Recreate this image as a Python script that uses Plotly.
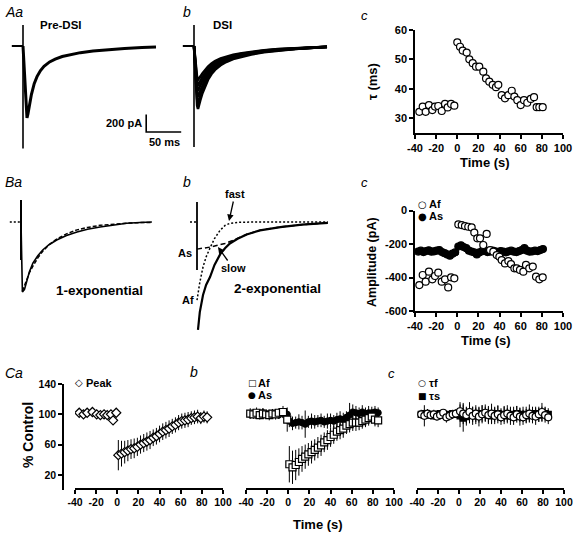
import plotly.graph_objects as go

W, H = 575, 533
FONT = "Liberation Sans, Arial, Helvetica, sans-serif"
SYM_FONT = "DejaVu Sans, sans-serif"

# ======================= DATA =======================
# A / B : current traces (time after stimulus in ms, current in pA)
a_time_ms = [0, 1.5, 3, 4.5, 5.7, 7, 9, 12, 16, 20, 25, 30, 38, 46, 56, 68, 82, 100, 120, 145, 170, 190]
pre_dsi_pA = [0, -250, -520, -740, -823, -780, -680, -555, -430, -350, -280, -232, -182, -150, -120, -97, -76, -57, -42, -28, -18, -11]
dsi_sweep1_pA = [0, -230, -480, -680, -720, -690, -620, -540, -455, -385, -320, -272, -220, -182, -148, -120, -96, -72, -52, -33, -20, -12]
dsi_sweep2_pA = [0, -210, -440, -610, -650, -620, -560, -490, -415, -352, -295, -252, -204, -169, -137, -111, -89, -66, -48, -31, -19, -11]
dsi_sweep3_pA = [0, -190, -400, -550, -580, -555, -500, -440, -378, -322, -270, -232, -188, -157, -127, -103, -82, -61, -44, -29, -18, -10]
dsi_sweep4_pA = [0, -170, -360, -490, -515, -495, -450, -398, -342, -293, -247, -212, -173, -145, -118, -96, -76, -57, -41, -27, -17, -10]
dsi_sweep5_pA = [0, -150, -320, -430, -450, -435, -400, -356, -306, -264, -224, -193, -158, -133, -109, -89, -70, -53, -38, -25, -16, -9]
dsi_sweep6_pA = [0, -130, -280, -370, -385, -375, -350, -314, -272, -235, -200, -173, -143, -121, -100, -82, -65, -49, -35, -23, -15, -9]
pre_baseline_ms = [-16, 0]
bb_baseline_ms = [-10, 0]
baseline_pA = [0, 0]
artifact_ms = [0, 0]
aa_artifact_pA = [240, -1170]
ab_artifact_pA = [240, -1154]
ba_artifact_pA = [251, -434]
bb_artifact_pA = [229, -549]
scale_bar_ms = 50
scale_bar_pA = 200

ba_time_ms = [0, 1, 2, 5, 8.6, 12, 17, 24, 31, 40, 51, 65, 80, 95, 113, 130, 151, 170, 187]
ba_data_pA = [0, -600, -800, -770, -663, -570, -469, -385, -320, -260, -206, -155, -114, -82, -57, -35, -14, -5, 0]
ba_fit_time_ms = [2, 5, 8.6, 12, 17, 24, 31, 40, 51, 65, 80, 95, 113, 130, 151, 170, 187]
ba_fit_pA = [-790, -730, -650, -580, -505, -410, -335, -260, -195, -135, -90, -62, -38, -24, -13, -7, -4]

bb_sum_time_ms = [1.4, 4, 8.6, 13, 18.6, 25, 33, 40, 47, 58, 71, 90, 119, 150, 187]
bb_sum_pA = [-1234, -1030, -834, -720, -629, -490, -370, -300, -245, -192, -142, -96, -58, -31, -11]
bb_fast_time_ms = [0, 4, 8.6, 13, 18.6, 25, 33, 40, 47, 60, 80, 120, 187]
bb_fast_pA = [-894, -690, -514, -400, -297, -190, -95, -40, -15, -4, 0, 0, 0]
bb_slow_time_ms = [0, 10, 20, 30, 40, 50, 60, 71, 90, 119, 150, 187]
bb_slow_pA = [-310, -300, -285, -265, -245, -215, -180, -140, -95, -57, -30, -11]

# Ac : decay time constant (s, ms)
tau_time_s = [-35.9, -32.7, -29.9, -26.8, -23.6, -21.1, -18.0, -14.7, -11.6, -9.1, -5.9, -2.8,
              0.0, 2.6, 5.1, 8.9, 11.4, 14.6, 17.7, 20.8, 24.6, 27.2, 30.3, 33.5, 36.6, 38.8,
              42.0, 45.1, 48.3, 51.5, 54.0, 56.8, 60.0, 63.1, 66.2, 69.5, 72.6, 75.1, 77.6, 80.8]
tau_ms = [32.1, 33.9, 32.1, 34.4, 32.7, 33.9, 34.1, 32.4, 34.8, 33.6, 34.8, 34.2,
          55.8, 54.3, 53.0, 52.3, 50.0, 48.7, 47.5, 47.5, 45.8, 43.5, 42.4, 41.3, 40.5, 41.3,
          37.8, 36.7, 37.8, 39.3, 37.3, 36.1, 34.4, 36.1, 35.2, 36.5, 37.1, 33.7, 33.7, 33.7]

# Bc : amplitudes of fast (Af) and slow (As) components
af_time_s = [-35.9, -32.7, -29.9, -26.8, -23.6, -21.1, -18.0, -14.7, -11.6, -8.6, -5.9, -2.8,
             1.0, 4.2, 7.3, 10.4, 13.6, 16.1, 18.9, 21.5, 24.6, 27.8, 31.0, 34.1, 37.3, 39.8,
             42.0, 45.1, 48.3, 50.8, 54.0, 56.2, 59.3, 62.5, 65.0, 68.1, 71.4, 74.5, 77.6, 80.8]
af_pA = [-445, -385, -425, -365, -411, -391, -371, -425, -411, -459, -399, -405,
         -83, -87, -93, -97, -101, -132, -166, -166, -206, -140, -236, -246, -266, -276,
         -296, -316, -302, -320, -345, -345, -355, -365, -325, -345, -335, -395, -411, -399]
as_time_s = [-37, -34.5, -32, -29.5, -27, -24.5, -22, -19.5, -17, -14.5, -12, -9.5, -7, -4.5, -2,
             1, 3.5, 6, 8.5, 11, 13.5, 16, 18.5, 21, 23.5, 26, 28.5, 31, 33.5, 36, 38.5, 41, 43.5,
             46, 48.5, 51, 53.5, 56, 58.5, 61, 63.5, 66, 68.5, 71, 73.5, 76, 78.5, 81]
as_pA = [-245, -240, -248, -242, -238, -246, -244, -240, -236, -248, -255, -262, -270, -258, -250,
         -215, -208, -218, -225, -240, -245, -250, -262, -250, -243, -240, -248, -245, -240, -244,
         -248, -242, -246, -250, -244, -240, -246, -248, -242, -236, -225, -240, -246, -244, -240,
         -242, -236, -230]

# C : pooled data, % of control (mean +/- s.e.m.)
post_time_s = [1, 4, 7, 10, 13, 16, 19, 22, 25, 28, 31, 34, 37, 40, 43, 46, 49, 52, 55, 58,
               61, 64, 67, 70, 73, 76, 79, 82, 85]
peak_pre_time_s = [-36, -32, -28.5, -23.5, -19.5, -16, -12.5, -9.5, -6, -4, -1]
peak_pre_pct = [102, 100, 102, 103, 100, 99, 100, 99, 100, 92, 102]
peak_post_pct = [46, 48, 50, 52, 54, 55, 57, 60, 62, 64, 66, 69, 71, 74, 77, 79, 81, 84, 86, 89,
                 91, 92, 93, 95, 96, 97, 95, 97, 96]
peak_post_err = [20, 17, 15, 14, 13, 13, 12, 12, 12, 12, 12, 11, 11, 11, 11, 11, 11, 10, 10, 10,
                 10, 10, 10, 9, 9, 9, 8, 8, 8]

cb_pre_time_s = [-36, -33, -30, -27, -24, -21, -18, -15, -12, -9, -5, -1]
af_pre_pct = [101, 100, 102, 99, 101, 100, 99, 101, 100, 102, 103, 93]
af_pre_err = [7, 6, 7, 6, 7, 6, 7, 6, 7, 6, 8, 16]
as_pre_pct = [100, 101, 99, 100, 102, 100, 99, 101, 100, 99, 101, 100]
as_pre_err = [5, 6, 5, 5, 6, 5, 5, 6, 5, 5, 6, 5]
af_post_pct = [34, 30, 33, 37, 41, 44, 47, 50, 53, 56, 59, 63, 66, 70, 73, 77, 79, 81, 85, 87,
               89, 89, 89, 91, 93, 95, 97, 93, 92]
af_post_err = [24, 22, 20, 18, 17, 16, 15, 15, 14, 14, 14, 13, 13, 13, 12, 12, 12, 12, 11, 11,
               11, 11, 10, 10, 10, 10, 9, 9, 9]
as_post_pct = [91, 88, 89, 90, 89, 87, 90, 91, 90, 91, 92, 90, 91, 92, 91, 93, 94, 93, 96, 99,
               103, 102, 101, 103, 101, 102, 102, 103, 102]
as_post_err = [8, 9, 8, 10, 9, 18, 8, 10, 9, 8, 9, 8, 10, 9, 8, 9, 10, 9, 8, 16,
               10, 9, 8, 9, 8, 9, 8, 8, 7]

cc_pre_time_s = [-36, -33, -30, -27, -24, -21, -18, -15, -12, -9, -6, -3]
tf_pre_pct = [100, 98, 101, 99, 100, 97, 99, 102, 96, 98, 100, 101]
tf_pre_err = [6, 14, 6, 5, 6, 5, 6, 5, 7, 6, 5, 6]
ts_pre_pct = [100, 101, 99, 100, 98, 100, 101, 99, 100, 99, 101, 100]
ts_pre_err = [4, 5, 4, 4, 5, 4, 4, 5, 4, 4, 5, 4]
tf_post_pct = [104, 101, 99, 103, 98, 101, 97, 100, 102, 99, 101, 98, 100, 96, 99, 101, 98, 96,
               100, 97, 96, 99, 101, 98, 97, 100, 103, 99, 96]
tf_post_err = [12, 14, 11, 13, 12, 11, 13, 12, 11, 12, 13, 11, 12, 10, 12, 11, 12, 10, 11, 12,
               10, 11, 12, 10, 11, 10, 12, 10, 9]
ts_post_pct = [98, 95, 97, 99, 100, 98, 99, 101, 100, 99, 98, 100, 101, 99, 100, 98, 99, 100,
               101, 99, 100, 98, 99, 100, 101, 99, 100, 101, 100]
ts_post_err = [15, 18, 12, 11, 10, 11, 10, 11, 10, 10, 11, 10, 10, 9, 10, 10, 9, 10, 10, 9,
               10, 9, 9, 10, 9, 9, 10, 9, 8]

# tick values and labels
time_ticks = [-40, -20, 0, 20, 40, 60, 80, 100]
time_tick_labels = ["-40", "-20", "0", "20", "40", "60", "80", "100"]
tau_ticks = [30, 40, 50, 60]
tau_tick_labels = ["30", "40", "50", "60"]
amp_ticks = [-600, -400, -200, 0]
amp_tick_labels = ["-600", "-400", "-200", "0"]
pct_ticks = [20, 60, 100, 140]
pct_tick_labels = ["20", "60", "100", "140"]

# ======================= LAYOUT HELPERS =======================
SX, SY = 0.7, 0.0875  # trace panels: px per ms, px per pA


def fx(x):
    return x / W


def fy(y):
    return 1 - y / H


def names(n):
    return ("xaxis" if n == 1 else f"xaxis{n}", "yaxis" if n == 1 else f"yaxis{n}")


def refs(n):
    return ("x" if n == 1 else f"x{n}", "y" if n == 1 else f"y{n}")


layout = dict(
    template="none",
    width=W, height=H, margin=dict(l=0, r=0, t=0, b=0, pad=0), autosize=False,
    paper_bgcolor="white", plot_bgcolor="rgba(0,0,0,0)", showlegend=False,
    font=dict(family=FONT, color="black"),
)


def trace_panel(n, box, origin):
    x0, x1, y0, y1 = box
    ox, oy = origin
    xn, yn = names(n)
    xr, yr = refs(n)
    layout[xn] = dict(domain=[fx(x0), fx(x1)], range=[(x0 - ox) / SX, (x1 - ox) / SX],
                      visible=False, anchor=yr, fixedrange=True, automargin=False)
    layout[yn] = dict(domain=[fy(y1), fy(y0)], range=[(oy - y1) / SY, (oy - y0) / SY],
                      visible=False, anchor=xr, fixedrange=True, automargin=False)


AXSTYLE = dict(showline=True, linecolor="black", linewidth=1.5, ticks="outside", ticklen=4,
               tickwidth=1.5, tickcolor="black", showgrid=False, zeroline=False, fixedrange=True,
               automargin=False, tickangle=0)


def data_panel(n, xdom, ydom, yrange, yticks, ylabels, show_y=True, x_pos=None, y_pos=None, tsize=11):
    xn, yn = names(n)
    xr, yr = refs(n)
    tf = dict(family=FONT, size=tsize, color="black", weight="bold")
    xa = dict(AXSTYLE, domain=[fx(xdom[0]), fx(xdom[1])], range=[-40, 100], tickvals=time_ticks,
              ticktext=time_tick_labels, tickfont=tf)
    if x_pos is None:
        xa["anchor"] = yr
    else:
        xa["anchor"] = "free"
        xa["position"] = fy(x_pos)
    ya = dict(AXSTYLE, domain=[fy(ydom[1]), fy(ydom[0])], range=yrange, tickvals=yticks,
              ticktext=ylabels, tickfont=tf)
    if y_pos is None:
        ya["anchor"] = xr
    else:
        ya["anchor"] = "free"
        ya["position"] = fx(y_pos)
    if not show_y:
        ya["visible"] = False
    layout[xn] = xa
    layout[yn] = ya


trace_panel(1, (0, 190, 0, 170), (23, 46))
trace_panel(2, (175, 365, 0, 170), (194, 46))
trace_panel(3, (0, 175, 180, 350), (21, 222))
trace_panel(4, (175, 365, 180, 350), (197, 222))
data_panel(5, (415, 563), (30, 133), [24.9, 60], tau_ticks, tau_tick_labels)
data_panel(6, (415, 563), (210.5, 311), [-600, 0], amp_ticks, amp_tick_labels)
data_panel(7, (75, 223), (384, 490), [0, 140], pct_ticks, pct_tick_labels, x_pos=489, y_pos=63, tsize=10.5)
data_panel(8, (246, 394), (384, 490), [0, 140], pct_ticks, pct_tick_labels, show_y=False, x_pos=489, tsize=10.5)
data_panel(9, (417, 564), (384, 490), [0, 140], pct_ticks, pct_tick_labels, show_y=False, x_pos=489, tsize=10.5)

fig = go.Figure()


def line(n, xs, ys, width=2.0, dash="solid"):
    xr, yr = refs(n)
    fig.add_trace(go.Scatter(x=xs, y=ys, xaxis=xr, yaxis=yr, mode="lines", hoverinfo="skip",
                             line=dict(color="black", width=width, dash=dash)))


def pts(n, xs, ys, symbol, size, filled, err=None, lw=1.2):
    xr, yr = refs(n)
    kw = {}
    if err is not None:
        kw["error_y"] = dict(type="data", array=err, color="black", thickness=1, width=0)
    fig.add_trace(go.Scatter(
        x=xs, y=ys, xaxis=xr, yaxis=yr, mode="markers", hoverinfo="skip",
        marker=dict(symbol=symbol, size=size, color="black" if filled else "white",
                    line=dict(color="black", width=lw)), **kw))


# ---- Aa : pre-DSI IPSC + scale bar
line(1, pre_baseline_ms, baseline_pA, 2)
line(1, artifact_ms, aa_artifact_pA, 1.6)
line(1, a_time_ms, pre_dsi_pA, 3)
sb_t0 = a_time_ms[-1] - 14
sb_i0 = aa_artifact_pA[1] + 187
line(1, [sb_t0, sb_t0, sb_t0 + scale_bar_ms], [sb_i0 + scale_bar_pA, sb_i0, sb_i0], 1.6)

# ---- Ab : DSI sweeps
line(2, pre_baseline_ms, baseline_pA, 2)
line(2, artifact_ms, ab_artifact_pA, 1.6)
for sweep in [dsi_sweep1_pA, dsi_sweep2_pA, dsi_sweep3_pA, dsi_sweep4_pA, dsi_sweep5_pA, dsi_sweep6_pA]:
    line(2, a_time_ms, sweep, 2.6)

# ---- Ba : 1-exponential fit
line(3, pre_baseline_ms, baseline_pA, 1.5, "2px,2px")
line(3, artifact_ms, ba_artifact_pA, 2)
line(3, ba_time_ms, ba_data_pA, 1.6)
line(3, ba_fit_time_ms, ba_fit_pA, 1.5, "4px,2px")

# ---- Bb : 2-exponential fit
line(4, bb_baseline_ms, baseline_pA, 1.5, "2px,2px")
line(4, artifact_ms, bb_artifact_pA, 1.8)
line(4, bb_sum_time_ms, bb_sum_pA, 2.2)
line(4, bb_fast_time_ms, bb_fast_pA, 1.5, "2px,2px")
line(4, bb_slow_time_ms, bb_slow_pA, 1.5, "5px,3px")

# ---- Ac, Bc
pts(5, tau_time_s, tau_ms, "circle", 7, False)
pts(6, as_time_s, as_pA, "circle", 7, True)
pts(6, af_time_s, af_pA, "circle", 7, False)

# ---- Ca, Cb, Cc
pts(7, peak_pre_time_s, peak_pre_pct, "diamond", 7, False)
pts(7, post_time_s, peak_post_pct, "diamond", 7, False, peak_post_err)
pts(8, cb_pre_time_s, as_pre_pct, "circle", 6, True, as_pre_err)
pts(8, post_time_s, as_post_pct, "circle", 6, True, as_post_err)
pts(8, cb_pre_time_s, af_pre_pct, "square", 7, False, af_pre_err)
pts(8, post_time_s, af_post_pct, "square", 7, False, af_post_err)
pts(9, cc_pre_time_s, ts_pre_pct, "square", 6, True, ts_pre_err)
pts(9, post_time_s, ts_post_pct, "square", 6, True, ts_post_err)
pts(9, cc_pre_time_s, tf_pre_pct, "circle", 7, False, tf_pre_err)
pts(9, post_time_s, tf_post_pct, "circle", 7, False, tf_post_err)

# ======================= TEXT =======================
ann = []


def text(s, x, y, size=11, bold=True, italic=False, xanchor="center", angle=0, family=FONT):
    t = s
    if bold:
        t = f"<b>{t}</b>"
    if italic:
        t = f"<i>{t}</i>"
    ann.append(dict(text=t, x=fx(x), y=fy(y), xref="paper", yref="paper", showarrow=False,
                    xanchor=xanchor, yanchor="middle", textangle=angle,
                    font=dict(family=family, size=size, color="black")))


# panel letters
text("Aa", 3, 12, 14, bold=False, italic=True, xanchor="left")
text("b", 181, 12, 14, bold=False, italic=True, xanchor="left")
text("c", 359, 15, 13, bold=False, italic=True, xanchor="left")
text("Ba", 3, 182, 14, bold=False, italic=True, xanchor="left")
text("b", 181, 182, 14, bold=False, italic=True, xanchor="left")
text("c", 359, 182, 13, bold=False, italic=True, xanchor="left")
text("Ca", 3, 373, 14, bold=False, italic=True, xanchor="left")
text("b", 188, 372, 14, bold=False, italic=True, xanchor="left")
text("c", 386, 373, 13, bold=False, italic=True, xanchor="left")

# trace labels
text("Pre-DSI", 61, 25, 11.5)
text("DSI", 222, 25, 11.5)
text("200 pA", 144, 123, 11, xanchor="right")
text("50 ms", 164, 142, 11)
text("1-exponential", 99, 290, 13.5)
text("2-exponential", 277, 288, 13.5)
text("As", 185, 253, 11)
text("Af", 188, 300, 11)
ann.append(dict(text="<b>fast</b>", x=fx(229), y=fy(221), xref="paper", yref="paper",
                showarrow=True, ax=6, ay=-27, axref="pixel", ayref="pixel", arrowhead=2,
                arrowsize=1, arrowwidth=1.3, arrowcolor="black",
                font=dict(family=FONT, size=11, color="black")))
ann.append(dict(text="<b>slow</b>", x=fx(218), y=fy(247), xref="paper", yref="paper",
                showarrow=True, ax=15, ay=21, axref="pixel", ayref="pixel", arrowhead=2,
                arrowsize=1, arrowwidth=1.3, arrowcolor="black",
                font=dict(family=FONT, size=11, color="black")))

# axis titles
text("\u03c4 (ms)", 372, 82, 13, angle=-90)
text("Amplitude (pA)", 372, 262, 12.5, angle=-90)
text("% Control", 28, 435, 14, angle=-90)
text("Time (s)", 485, 162, 13)
text("Time (s)", 486, 340, 13)
text("Time (s)", 318, 524, 13)

# legends
text("\u25cb", 422, 204, 10, bold=False, family=SYM_FONT)
text("Af", 427, 204, 11, xanchor="left")
text("\u25cf", 422, 216, 10, bold=False, family=SYM_FONT)
text("As", 427, 216, 11, xanchor="left")
text("\u25c7", 79, 383, 10, bold=False, family=SYM_FONT)
text("Peak", 84, 383, 11, xanchor="left")
text("\u25a1", 252, 383, 9, bold=False, family=SYM_FONT)
text("Af", 256, 383, 11, xanchor="left")
text("\u25cf", 252, 395, 9, bold=False, family=SYM_FONT)
text("As", 256, 395, 11, xanchor="left")
text("\u25cb", 422, 383, 9, bold=False, family=SYM_FONT)
text("\u03c4f", 427, 383, 11, xanchor="left")
text("\u25a0", 422, 396, 9, bold=False, family=SYM_FONT)
text("\u03c4s", 427, 396, 11, xanchor="left")

layout["annotations"] = ann
fig.update_layout(**layout)
fig.write_html("out.html", config={"displayModeBar": False},
               post_script="document.body.style.margin='0px';")
